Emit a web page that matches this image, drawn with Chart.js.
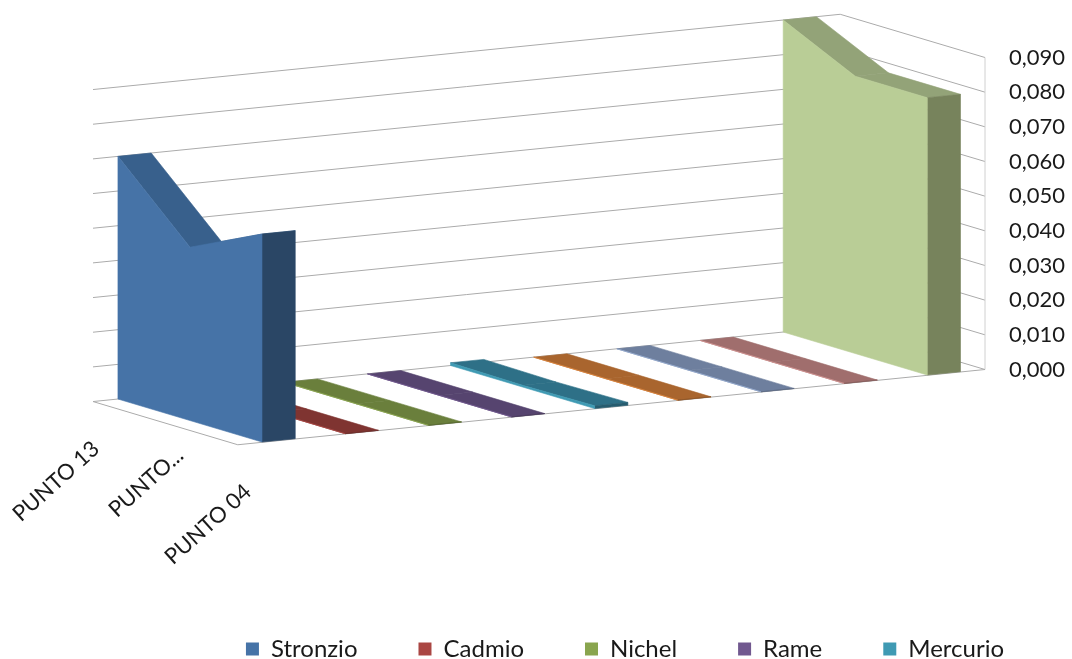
<!DOCTYPE html>
<html>
<head>
<meta charset="utf-8">
<style>html,body{margin:0;padding:0;background:#fff}#wrap{width:1072px;height:659px}</style>
<script src="https://cdn.jsdelivr.net/npm/chart.js@4"></script>
</head>
<body>
<div id="wrap"><canvas id="c" width="1072" height="659"></canvas></div>
<script>
// ---- data ----
const categories = ['PUNTO 13', 'PUNTO...', 'PUNTO 04'];
const seriesNames = ['Stronzio','Cadmio','Nichel','Rame','Mercurio','Serie 6','Serie 7','Serie 8','Serie 9'];
const stronzio = [0.070, 0.050, 0.060];
const cadmio   = [0, 0, 0];
const nichel   = [0, 0, 0];
const rame     = [0, 0, 0];
const mercurio = [0.0008, 0.0005, 0.0008];
const serie6   = [0, 0, 0];
const serie7   = [0, 0, 0];
const serie8   = [0, 0, 0];
const serie9   = [0.090, 0.080, 0.080];
const allSeries = [stronzio,cadmio,nichel,rame,mercurio,serie6,serie7,serie8,serie9];
const yMax = 0.09, yStep = 0.01;

// ---- styles ----
const frontColors = ['#4673A7','#AA4643','#89A54E','#71588F','#3F9AB3','#DB843D','#93A9CF','#D19392','#B9CD96'];
const topColors   = ['#38608C','#7F3431','#6A7F3C','#56446F','#2E7087','#A9652E','#6E7F9E','#A06E6D','#93A378'];
const sideColors  = ['#2A4665','#6A2B29','#55662F','#463759','#265C6F','#8A5225','#5A6881','#835A59','#77835C'];
const legendCount = 5;
const gridColor = '#ABABAB';
const font = 'Lato, Carlito, sans-serif';

// ---- oblique projection settings, px per unit ----
const catDy = 21.5;          // screen drop per category
const serDx = 83.125 / 72;   // x-scale units per series step
const serDy = 8.375;         // screen rise per series step
const depth = 0.4;           // depth of one series, in series steps
const floorS = [-0.3, 8.686];
const floorC = [0, 2.01];
const labelEnds = [[3,44],[15,29],[11,44]];

function project(chart, c, s, v) {
  const {x, y} = chart.scales;
  return [
    x.getPixelForValue(c + s * serDx),
    y.getPixelForValue(v) + (c - floorC[1]) * catDy - (s - floorS[1]) * serDy
  ];
}
function poly(ctx, pts, fill, stroke) {
  ctx.beginPath();
  pts.forEach((p, i) => i ? ctx.lineTo(p[0], p[1]) : ctx.moveTo(p[0], p[1]));
  ctx.closePath();
  ctx.fillStyle = fill; ctx.fill();
  ctx.lineWidth = 0.6; ctx.strokeStyle = stroke || fill; ctx.stroke();
}
function line(ctx, a, b) {
  ctx.beginPath(); ctx.moveTo(a[0], a[1]); ctx.lineTo(b[0], b[1]); ctx.stroke();
}

const area3d = {
  id: 'area3d',
  afterLayout(chart) {
    // legend sits in its own strip at the bottom of the picture
    const lg = chart.legend, pad = lg.options.labels.padding;
    const dy = 637 - pad - lg.top, dx = 45;
    lg.top += dy; lg.bottom += dy; lg.left += dx; lg.right += dx;
  },
  beforeDatasetsDraw(chart) {
    const ctx = chart.ctx;
    const [s0, s1] = floorS, [c0, c1] = floorC;
    ctx.save();
    // walls and floor
    ctx.strokeStyle = gridColor; ctx.lineWidth = 1;
    for (let v = 0; v <= yMax + 1e-9; v += yStep) {
      const a = project(chart, c0, s0, v), b = project(chart, c0, s1, v), d = project(chart, c1, s1, v);
      line(ctx, a, b); line(ctx, b, d);
    }
    ctx.strokeStyle = '#D0D0D0';
    line(ctx, project(chart, c1, s1, 0), project(chart, c1, s1, yMax));
    ctx.strokeStyle = gridColor;
    const f = project(chart, c1, s0, 0);
    line(ctx, project(chart, c0, s0, 0), f);
    line(ctx, f, project(chart, c1, s1, 0));

    // series back to front
    for (let s = allSeries.length - 1; s >= 0; s--) {
      const vals = chart.data.datasets[s].data.map(d => d.y);
      const n = vals.length;
      for (let i = 0; i < n - 1; i++) {
        poly(ctx, [project(chart,i,s,vals[i]), project(chart,i+1,s,vals[i+1]),
                   project(chart,i+1,s+depth,vals[i+1]), project(chart,i,s+depth,vals[i])], topColors[s]);
      }
      poly(ctx, [project(chart,n-1,s,0), project(chart,n-1,s,vals[n-1]),
                 project(chart,n-1,s+depth,vals[n-1]), project(chart,n-1,s+depth,0)], sideColors[s]);
      const front = vals.map((v, i) => project(chart, i, s, v));
      poly(ctx, front.concat([project(chart,n-1,s,0), project(chart,0,s,0)]), frontColors[s]);
    }

    // category labels, rotated under the floor's front edge
    ctx.fillStyle = '#1a1a1a';
    ctx.font = '22px ' + font;
    ctx.textAlign = 'right'; ctx.textBaseline = 'middle';
    categories.forEach((t, i) => {
      const p = project(chart, i, s0, 0);
      ctx.save();
      ctx.translate(p[0] + labelEnds[i][0], p[1] + labelEnds[i][1]);
      ctx.rotate(-42 * Math.PI / 180);
      ctx.fillText(t, 0, 0);
      ctx.restore();
    });
    ctx.restore();
  }
};

new Chart(document.getElementById('c'), {
  type: 'line',
  plugins: [area3d],
  data: {
    datasets: allSeries.map((vals, s) => ({
      label: seriesNames[s],
      data: vals.map((v, i) => ({x: i, y: v})),
      backgroundColor: frontColors[s],
      borderColor: frontColors[s],
      borderWidth: 0,
      showLine: false,
      pointRadius: 0,
      pointHoverRadius: 0
    }))
  },
  options: {
    responsive: false,
    animation: false,
    events: [],
    layout: { padding: { left: 93, right: 5, top: 57.5, bottom: 194.5 } },
    scales: {
      x: { type: 'linear', display: false, min: floorS[0] * serDx, max: floorC[1] + floorS[1] * serDx },
      y: {
        position: 'right', min: 0, max: yMax,
        grid: { display: false, drawTicks: false },
        border: { display: false },
        afterFit(a) { a.width = 82; },
        ticks: {
          stepSize: yStep, padding: 24, color: '#1a1a1a',
          font: { family: font, size: 22 },
          callback: v => v.toFixed(3).replace('.', ',')
        }
      }
    },
    plugins: {
      title: { display: false },
      tooltip: { enabled: false },
      legend: {
        position: 'bottom',
        labels: {
          filter: item => item.datasetIndex < legendCount,
          boxWidth: 13, boxHeight: 13, padding: 61, color: '#1a1a1a',
          font: { family: font, size: 24 }
        }
      }
    }
  }
});
</script>
</body>
</html>
